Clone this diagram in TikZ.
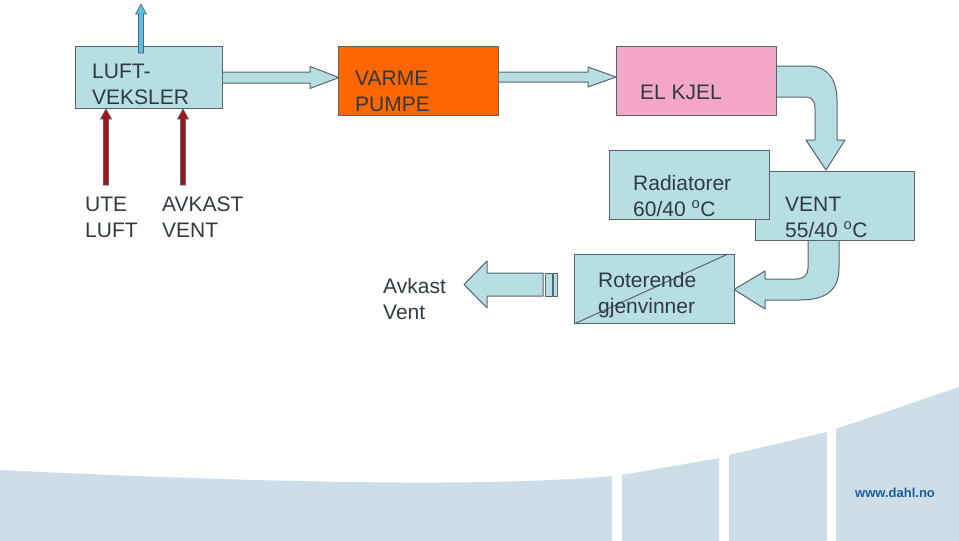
\documentclass[tikz,border=0pt]{standalone}
\usepackage{fontspec}
\setmainfont{Liberation Sans}
\usetikzlibrary{calc}

\definecolor{lysblaa}{HTML}{B7DEE2}
\definecolor{kant}{HTML}{56666C}
\definecolor{tekstgraa}{HTML}{2F3B40}
\definecolor{oransje}{HTML}{FF6600}
\definecolor{rosa}{HTML}{F5A8C6}
\definecolor{himmel}{HTML}{57BFEA}
\definecolor{moerkroed}{HTML}{A3131B}
\definecolor{bunn}{HTML}{CEDEE9}
\definecolor{dahlblaa}{HTML}{1B5E9E}

\tikzset{
  boks/.style={draw=kant, line width=1, anchor=north west, inner sep=0},
  tekst/.style={text=tekstgraa, font=\fontsize{21}{26}\selectfont, align=left, anchor=base west, inner sep=0},
  blokkpil/.style={draw=kant, fill=lysblaa, line width=1, line join=round},
}

% thin arrow pointing up, from #1 to #2
\newcommand{\smalpil}[3]{%
  \filldraw[draw=kant, fill=#3, line width=0.6]
    ($(#1)+(-2.5,0)$) -- ($(#2)+(-2.5,10)$) -- ($(#2)+(-5.5,10)$) -- (#2)
    -- ($(#2)+(5.5,10)$) -- ($(#2)+(2.5,10)$) -- ($(#1)+(2.5,0)$) -- cycle;}

\begin{document}
\begin{tikzpicture}[x=1pt,y=-1pt]
  \useasboundingbox (0,0) rectangle (959,541);

  % bunnstripe
  \fill[bunn] (0,470) .. controls (250,482) and (480,488) .. (612,476) -- (612,541) -- (0,541) -- cycle;
  \fill[bunn] (622,475) -- (719,458) -- (719,541) -- (622,541) -- cycle;
  \fill[bunn] (729,455) -- (827,432) -- (827,541) -- (729,541) -- cycle;
  \fill[bunn] (836,429) -- (959,387) -- (959,541) -- (836,541) -- cycle;
  \node[font=\bfseries\fontsize{13}{15}\selectfont, text=dahlblaa, anchor=base west, inner sep=0] (web) at (855,497) {www.dahl.no};

  % blokkpiler
  \filldraw[blokkpil] (222,72) -- (310,72) -- (310,66.5) -- (339,77.5) -- (310,88.5) -- (310,83) -- (222,83) -- cycle;
  \filldraw[blokkpil] (498,72) -- (588,72) -- (588,67) -- (616,77) -- (588,87) -- (588,82) -- (498,82) -- cycle;
  \filldraw[blokkpil] (776,66) -- (808,66) .. controls (828,66) and (837,80) .. (837,100) -- (837,140)
    -- (845,140) -- (826,170) -- (806,140) -- (815,140) -- (815,108) .. controls (815,101) and (812,97) .. (806,97)
    -- (776,97) -- cycle;
  \filldraw[blokkpil] (808,240) -- (808,268) .. controls (808,275) and (804,279) .. (796,279) -- (765,279)
    -- (765,271) -- (734,289.5) -- (765,309) -- (765,300) -- (800,300) .. controls (826,300) and (839,290) .. (839,268)
    -- (839,240) -- cycle;
  \filldraw[blokkpil] (543,273) -- (487,273) -- (487,261) -- (464,284.5) -- (487,308) -- (487,296) -- (543,296) -- cycle;
  \filldraw[blokkpil] (545,273) rectangle (552,296);
  \filldraw[blokkpil] (553.5,273) rectangle (557.5,296);

  % bokser
  \node[boks, fill=lysblaa, minimum width=147, minimum height=62] (lv) at (75,46) {};
  \node[boks, fill=oransje, minimum width=160, minimum height=69] (vp) at (338,46) {};
  \node[boks, fill=rosa, minimum width=160, minimum height=69] (ek) at (616,46) {};
  \node[boks, fill=lysblaa, minimum width=159, minimum height=69] (vent) at (755,171) {};
  \node[boks, fill=lysblaa, minimum width=160, minimum height=69] (rad) at (609,150) {};
  \node[boks, fill=lysblaa, minimum width=160, minimum height=69] (rot) at (574,254) {};
  \draw[kant, line width=1] (rot.south west) -- ([xshift=-7]rot.north east);

  % tynne piler
  \coordinate (ut-bunn) at (141,53);
  \coordinate (ut-topp) at (141,4);
  \coordinate (ute-bunn) at (106,185);
  \coordinate (ute-topp) at (lv.south -| ute-bunn);
  \coordinate (avk-bunn) at (183,185);
  \coordinate (avk-topp) at (lv.south -| avk-bunn);
  \smalpil{ut-bunn}{ut-topp}{himmel}
  \smalpil{ute-bunn}{ute-topp}{moerkroed}
  \smalpil{avk-bunn}{avk-topp}{moerkroed}

  % tekster (base = siste linje)
  \node[tekst] (lv-t) at (92,104) {LUFT-\\VEKSLER};
  \node[tekst] (vp-t) at (355,111) {VARME\\PUMPE};
  \node[tekst] (ek-t) at (640,99) {EL KJEL};
  \node[tekst] (rad-t) at (633,216) {Radiatorer\\60/40 \textsuperscript{o}C};
  \node[tekst] (vent-t) at (785,237) {VENT\\55/40 \textsuperscript{o}C};
  \node[tekst] (rot-t) at (598,313) {Roterende\\gjenvinner};
  \node[tekst] (avk-t) at (383,319) {Avkast\\Vent};
  \node[tekst] (ute-t) at (85,237) {UTE\\LUFT};
  \node[tekst] (avkv-t) at (162,237) {AVKAST\\VENT};
\end{tikzpicture}
\end{document}
